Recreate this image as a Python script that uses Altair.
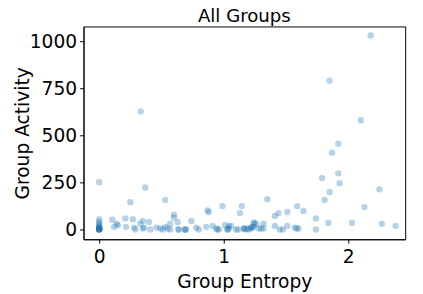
import altair as alt
import pandas as pd

entropy = [
    0.333, 2.18, 1.85, 2.10, 1.92, 1.87, 1.92, 1.79, 1.93, 1.85, 1.81, 2.25, 2.13,
    1.84, 2.03, 2.27, 2.38,
    0.0, 0.37, 0.25, 0.53, 0.60, 0.60, 0.63, 0.74, 0.87, 0.88, 0.99, 1.145, 1.13,
    1.24, 1.35, 1.41, 1.44, 1.51, 1.59, 1.64, 1.74, 1.74, 1.41, 1.45, 1.475, 1.51,
    1.57, 1.585, 1.60,
    0.0, 0.0, 0.0, 0.0, 0.0, 0.0, 0.0, 0.0, 0.0, 0.0, 0.0, 0.0, 0.0, 0.0,
    0.105, 0.14, 0.15, 0.12, 0.21, 0.215, 0.27, 0.28, 0.29, 0.33, 0.35, 0.36, 0.35,
    0.40, 0.41, 0.46, 0.49, 0.51, 0.53, 0.57, 0.55, 0.57,
    0.635, 0.64, 0.69, 0.69, 0.695, 0.78, 0.80, 0.86, 0.91, 0.94, 0.95, 0.96,
    1.01, 1.04, 1.06, 1.03, 1.03, 1.04, 1.10, 1.115, 1.16, 1.17, 1.20, 1.22, 1.24,
    1.165, 1.19, 1.22, 1.23, 1.245, 1.26, 1.28, 1.30, 1.32, 1.32,
]
activity = [
    627, 1030, 790, 580, 455, 408, 298, 273, 246, 199, 157, 213, 119,
    35, 35, 30, 19,
    251, 223, 145, 157, 79, 63, 40, 45, 101, 93, 124, 124, 87,
    37, 161, 72, 87, 93, 124, 98, 58, 0, 19, 0, 0, 19,
    10, 5, 5,
    54, 40, 30, 22, 15, 10, 6, 3, 0, 0, 0, 0, 2, 8,
    52, 31, 22, 14, 59, 14, 54, 10, 0, 31, 45, 10, 5,
    40, 0, 10, 5, 0, 14, 31, 5, 0,
    0, 0, 0, 0, 0, 10, 0, 14, 19, 5, 0, 0,
    23, 19, 19, 0, 0, 5, 0, 0, 5, 0, 0, 10, 14,
    5, 5, 5, 14, 31, 31, 5, 5, 5, 31,
]

df = pd.DataFrame({"entropy": entropy, "activity": activity})

font = "DejaVu Sans"

chart = (
    alt.Chart(df)
    .mark_circle(color="#1f77b4", opacity=0.33, size=42)
    .encode(
        x=alt.X(
            "entropy:Q",
            scale=alt.Scale(domain=[-0.126, 2.457], nice=False, zero=False),
            axis=alt.Axis(values=[0, 1, 2], title="Group Entropy", format="d"),
        ),
        y=alt.Y(
            "activity:Q",
            scale=alt.Scale(domain=[-52, 1078], nice=False, zero=False),
            axis=alt.Axis(values=[0, 250, 500, 750, 1000], title="Group Activity",
                          format="d"),
        ),
    )
    .properties(
        width=328,
        height=217,
        title=alt.TitleParams("All Groups", fontSize=18.5, font=font, fontWeight="normal",
                              color="black", offset=1, anchor="middle"),
        autosize=alt.AutoSizeParams(type="none"),
        padding={"left": 77, "top": 16, "right": 10, "bottom": 53},
    )
    .configure_view(stroke="black", strokeWidth=1)
    .configure_axis(
        grid=False,
        domainColor="black",
        domainWidth=1,
        tickColor="black",
        tickSize=4,
        tickWidth=1,
        labelFont=font,
        labelFontSize=19,
        labelColor="black",
        labelPadding=3,
        titleFont=font,
        titleFontSize=19,
        titleFontWeight="normal",
        titleColor="black",
    )
    .configure_axisX(labelPadding=5, titlePadding=6)
    .configure_axisY(titlePadding=-3)
)

chart.save("out.html", embed_options={"renderer": "svg", "actions": False})
